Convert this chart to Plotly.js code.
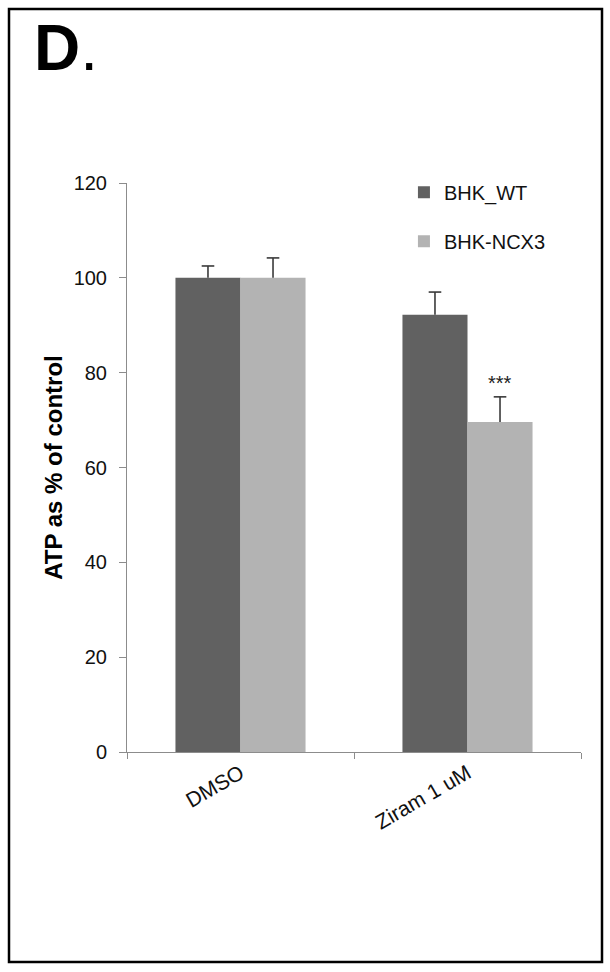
<!DOCTYPE html>
<html>
<head>
<meta charset="utf-8">
<script src="https://cdn.plot.ly/plotly-3.0.1.min.js"></script>
<style>html,body{margin:0;padding:0;background:#fff;}#chart{width:610px;height:972px;}</style>
</head>
<body>
<div id="chart"></div>
<script>
const categories = ["DMSO", "Ziram 1 uM"];
const seriesNames = ["BHK_WT", "BHK-NCX3"];
const wtValues = [100, 92.2];
const wtErrors = [2.5, 4.8];
const ncxValues = [100, 69.6];
const ncxErrors = [4.2, 5.3];
const yTicks = [0, 20, 40, 60, 80, 100, 120];
const significance = ["", "***"];

const FONT = "Liberation Sans, Arial, Helvetica, sans-serif";
const ERR_COLOR = "#3a3a3a";

function barTrace(name, values, errors, color, group) {
  return {
    type: "bar", name: name, x: categories, y: values,
    legendgroup: group, offsetgroup: group,
    marker: {color: color, line: {width: 0}},
    error_y: {type: "data", symmetric: false, array: errors, arrayminus: errors.map(() => 0),
              color: ERR_COLOR, thickness: 1.6, width: 0}
  };
}
function capTrace(values, errors, group) {
  return {
    type: "scatter", mode: "markers", x: categories, y: values.map((v, i) => v + errors[i]),
    offsetgroup: group, showlegend: false, hoverinfo: "skip",
    marker: {symbol: "line-ew", size: 9, line: {color: ERR_COLOR, width: 1.6}}
  };
}

const traces = [
  barTrace(seriesNames[0], wtValues, wtErrors, "#616161", "a"),
  barTrace(seriesNames[1], ncxValues, ncxErrors, "#b3b3b3", "b"),
  capTrace(wtValues, wtErrors, "a"),
  capTrace(ncxValues, ncxErrors, "b")
];

const plotW = 610 - 127 - 29;
const bargap = 0.427;
const barPx = plotW / categories.length * (1 - bargap) / 2;

const annotations = [
  {text: "<b>D</b>.", xref: "paper", yref: "paper", x: -0.21, y: 1.237, xanchor: "left", yanchor: "middle",
   showarrow: false, font: {family: FONT, size: 64, color: "#000"}}
];
categories.forEach((c, i) => {
  if (significance[i]) {
    annotations.push({
      text: significance[i], x: c, y: ncxValues[i] + ncxErrors[i], xref: "x", yref: "y",
      xshift: barPx / 2, yshift: 1, yanchor: "bottom", showarrow: false,
      font: {family: FONT, size: 20, color: "#222"}
    });
  }
});

const layout = {
  width: 610, height: 972,
  margin: {l: 127, r: 29, t: 183, b: 220},
  paper_bgcolor: "#fff", plot_bgcolor: "#fff",
  font: {family: FONT, color: "#111"},
  barmode: "group", bargap: bargap, bargroupgap: 0,
  scattermode: "group", scattergap: bargap,
  showlegend: true,
  legend: {x: 0.61, y: 1.018, xanchor: "left", yanchor: "top", traceorder: "grouped",
           tracegroupgap: 20, font: {family: FONT, size: 20, color: "#111"}, bgcolor: "rgba(0,0,0,0)"},
  xaxis: {
    type: "category", showline: true, linecolor: "#8c8c8c", linewidth: 1,
    ticks: "outside", tickson: "boundaries", ticklen: 6, tickcolor: "#8c8c8c",
    tickangle: -30, tickfont: {family: FONT, size: 21, color: "#111"},
    showgrid: false, zeroline: false
  },
  yaxis: {
    range: [0, 120], tickvals: yTicks, ticktext: yTicks.map(String),
    showline: true, linecolor: "#8c8c8c", linewidth: 1,
    ticks: "outside", ticklen: 7, tickcolor: "#8c8c8c", ticklabelstandoff: 8,
    tickfont: {family: FONT, size: 20, color: "#111"},
    showgrid: false, zeroline: false,
    title: {text: "<b>ATP as % of control</b>", font: {family: FONT, size: 24, color: "#000"}, standoff: 4}
  },
  shapes: [
    {type: "rect", xref: "paper", yref: "paper",
     x0: (9 - 127) / plotW, x1: (602 - 127) / plotW,
     y0: (752 - 962) / 569, y1: (752 - 9) / 569,
     line: {color: "#000", width: 2.5}, fillcolor: "rgba(0,0,0,0)", layer: "above"}
  ],
  annotations: annotations
};

Plotly.newPlot("chart", traces, layout, {displayModeBar: false, staticPlot: true});
</script>
</body>
</html>
